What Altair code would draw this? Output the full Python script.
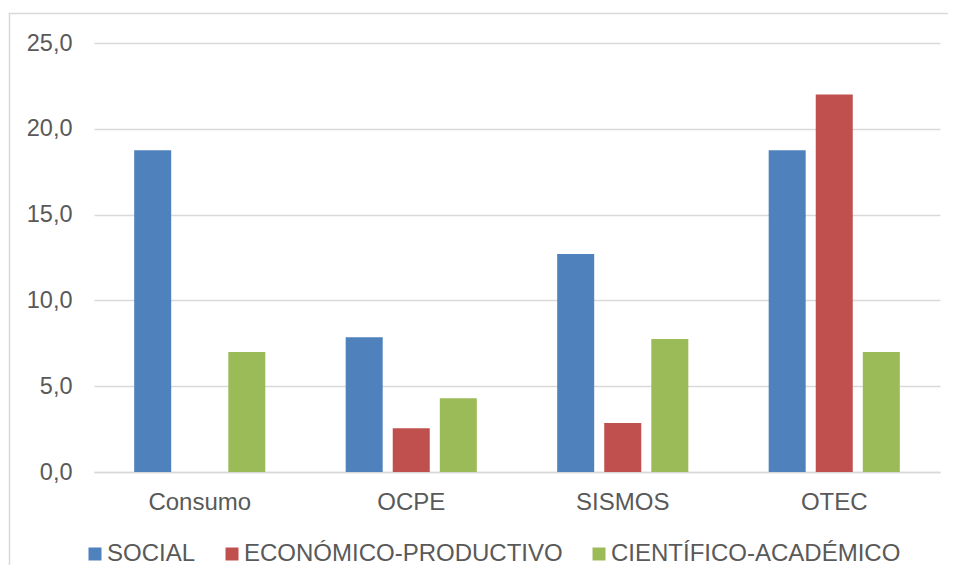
import altair as alt
import pandas as pd

categories = ["Consumo", "OCPE", "SISMOS", "OTEC"]
series = ["SOCIAL", "ECONÓMICO-PRODUCTIVO", "CIENTÍFICO-ACADÉMICO"]
social = [18.75, 7.85, 12.7, 18.75]
economico = [0.0, 2.55, 2.85, 22.0]
cientifico = [7.0, 4.3, 7.75, 7.0]
colors = ["#4F81BD", "#C0504D", "#9BBB59"]

rows = []
for i, c in enumerate(categories):
    for s, vals in zip(series, [social, economico, cientifico]):
        rows.append({"cat": c, "serie": s, "valor": vals[i]})
df = pd.DataFrame(rows)

FONT = "Liberation Sans"
TXT = "#595959"
GRID = "#D9D9D9"

W, H = 846, 429
PAD = {"left": 86, "top": 35, "right": 9, "bottom": 94}

bars = alt.Chart(df).mark_bar().encode(
    x=alt.X("cat:N", sort=categories, title=None,
            scale=alt.Scale(paddingInner=0.38, paddingOuter=0.19),
            axis=alt.Axis(labelAngle=0, ticks=False, domain=True, domainColor=GRID,
                          domainWidth=1.5, labelPadding=18, labelFontSize=24,
                          labelFont=FONT, labelColor=TXT)),
    xOffset=alt.XOffset("serie:N", sort=series,
                        scale=alt.Scale(paddingInner=0.2136, paddingOuter=0)),
    y=alt.Y("valor:Q", title=None,
            scale=alt.Scale(domain=[0, 25], nice=False),
            axis=alt.Axis(values=[0, 5, 10, 15, 20, 25], domain=False, ticks=False,
                          gridColor=GRID, gridWidth=1.5, labelPadding=22,
                          labelFontSize=23.5, labelFont=FONT, labelColor=TXT,
                          labelExpr="replace(format(datum.value, '.1f'), '.', ',')")),
    color=alt.Color("serie:N", sort=series,
                    scale=alt.Scale(domain=series, range=colors),
                    legend=alt.Legend(title=None, orient="none", direction="horizontal",
                                      legendX=-11, legendY=499, symbolType="square",
                                      symbolSize=169, symbolStrokeWidth=0,
                                      labelFontSize=24, labelFont=FONT, labelColor=TXT,
                                      labelLimit=0, labelOffset=0, columnPadding=24,
                                      padding=0)),
)

frame = alt.Data(values=[{}])
top_edge = alt.Chart(frame).mark_rect(fill=GRID, strokeWidth=0).encode(
    x=alt.value(-85.25), x2=alt.value(W + PAD["right"] - 1),
    y=alt.value(-30.25), y2=alt.value(-28.75),
)
left_edge = alt.Chart(frame).mark_rect(fill=GRID, strokeWidth=0).encode(
    x=alt.value(-85.25), x2=alt.value(-83.75),
    y=alt.value(-30.25), y2=alt.value(H + PAD["bottom"] - 1),
)

chart = alt.layer(top_edge, left_edge, bars).properties(
    width=W, height=H,
    autosize=alt.AutoSizeParams(type="none"),
    padding=PAD,
).configure_view(stroke=None)

chart.save("out.html", embed_options={"renderer": "svg", "actions": False})
